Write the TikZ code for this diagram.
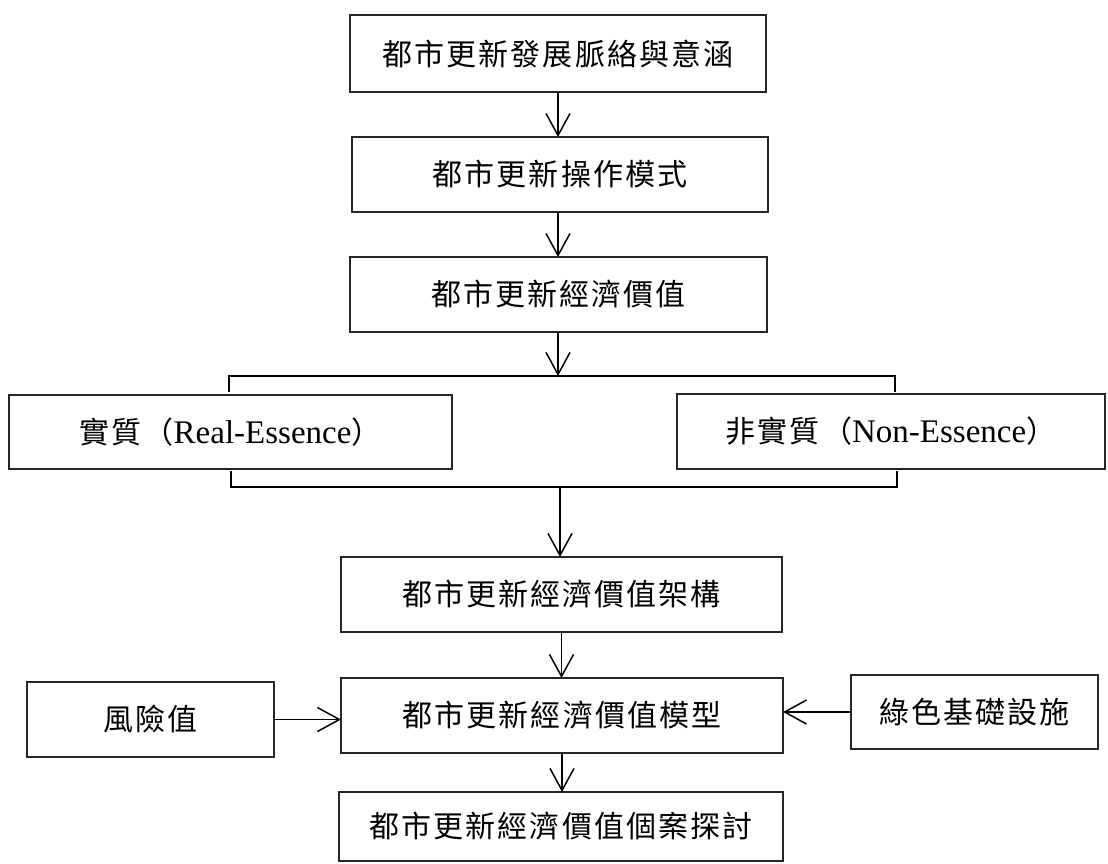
\documentclass[tikz,border=0pt]{standalone}
\usepackage{fontspec}
\setmainfont{Liberation Serif}
\newfontfamily\cjk[LetterSpace=7]{Noto Sans CJK TC}
\usetikzlibrary{arrows.meta,calc}
\tikzset{
  box/.style={draw=black!85, line width=1.1pt, rectangle, inner sep=0pt, outer sep=0pt,
    font=\fontsize{30}{36}\selectfont, align=center},
  conn/.style={line width=1.5pt, -{Straight Barb[length=22pt,width=24pt,line width=1.5pt]}},
  brk/.style={line width=1.9pt},
}
\newcommand{\lat}[1]{{\fontsize{33}{36}\selectfont #1}}
\begin{document}
\begin{tikzpicture}[x=1pt,y=-1pt]
\useasboundingbox (0,0) rectangle (1108,863);
\node[box, minimum width=416, minimum height=77] (b1) at (558,53.5) {\cjk 都市更新發展脈絡與意涵};
\node[box, minimum width=416, minimum height=75] (b2) at (560,174.5) {\cjk 都市更新操作模式};
\node[box, minimum width=417, minimum height=75] (b3) at (558.5,294.5) {\cjk 都市更新經濟價值};
\node[box, minimum width=443, minimum height=74] (real) at (230.5,432) {{\cjk 實質（}\lat{Real-Essence}{\cjk ）}};
\node[box, minimum width=428, minimum height=75] (non) at (891,431.5) {{\cjk 非實質（}\lat{Non-Essence}{\cjk ）}};
\node[box, minimum width=441, minimum height=75] (frame) at (561.5,594.5) {\cjk 都市更新經濟價值架構};
\node[box, minimum width=442, minimum height=75] (model) at (562,715.5) {\cjk 都市更新經濟價值模型};
\node[box, minimum width=247, minimum height=75] (risk) at (150.5,719.5) {\cjk 風險值};
\node[box, minimum width=247, minimum height=74] (green) at (974.5,712) {\cjk 綠色基礎設施};
\node[box, minimum width=444, minimum height=69] (case) at (561,826.5) {\cjk 都市更新經濟價值個案探討};
% bracket coordinates
\coordinate (tl) at (229,376);
\coordinate (tr) at (895,376);
\coordinate (tld) at (229,392);
\coordinate (trd) at (895,392);
\coordinate (bl) at (231,487);
\coordinate (br) at (897,487);
\coordinate (blu) at (231,471);
\coordinate (bru) at (897,471);
\coordinate (bm) at (560,487);
\draw[brk] (tld) -- (tl) -- (tr) -- (trd);
\draw[brk] (blu) -- (bl) -- (br) -- (bru);
% connectors
\draw[conn] (b1.south) -- (b1.south |- b2.north);
\draw[conn] (b2.south -| b1.south) -- (b1.south |- b3.north);
\draw[conn] (b3.south -| b1.south) -- (b1.south |- tl);
\draw[conn] (bm) -- (bm |- frame.north);
\draw[conn] (frame.south) -- (frame.south |- model.north);
\draw[conn] (risk.east) -- (risk.east -| model.west);
\draw[conn] (green.west) -- (green.west -| model.east);
\draw[conn] (model.south) -- (model.south |- case.north);
\end{tikzpicture}
\end{document}
